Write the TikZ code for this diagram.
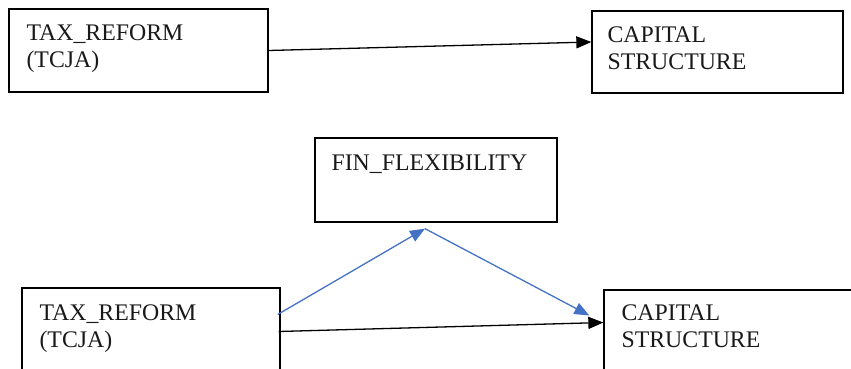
\documentclass[tikz,border=0pt]{standalone}
\usepackage{fontspec}
\setmainfont{Liberation Serif}
\usepackage{xcolor}
\usepackage{tikz}
\usetikzlibrary{arrows.meta,positioning,calc}
\definecolor{medblue}{RGB}{68,114,196}
\tikzset{
  box/.style={rectangle, draw, line width=1.3pt, inner sep=0pt},
  boxtext/.style={anchor=north west, inner sep=0pt, align=left, font=\fontsize{23.8}{27}\selectfont, text=black!90},
  arrow/.style={-{Triangle[length=15pt,width=12pt]}, line width=1.3pt},
  medarrow/.style={-{Triangle[length=15pt,width=12pt]}, line width=1.3pt, medblue}
}

\begin{document}
\begin{tikzpicture}[x=1pt,y=-1pt]
  \useasboundingbox (0,0) rectangle (851,369);
  \clip (0,0) rectangle (851,369);
  % top model
  \node[box, minimum width=259pt, minimum height=83pt] (tax) at (138.5,50.5) {};
  \node[box, minimum width=251pt, minimum height=82pt] (cap) at (717.5,52) {};
  \node[boxtext] (taxtxt) at ([shift={(18pt,-16pt)}]tax.north west) {TAX\_REFORM\\(TCJA)};
  \node[boxtext] (captxt) at ([shift={(16pt,-16pt)}]cap.north west) {CAPITAL\\STRUCTURE};
  \draw[arrow] (tax.east) -- ([yshift=10pt]cap.west);
  % mediation model
  \node[box, minimum width=242pt, minimum height=84pt] (flex) at (436,180) {};
  \node[box, minimum width=258pt, minimum height=83pt] (taxm) at (151,329.5) {};
  \node[box, minimum width=251pt, minimum height=83pt] (capm) at (729.5,331.5) {};
  \node[boxtext] (flextxt) at ([shift={(17pt,-17pt)}]flex.north west) {FIN\_FLEXIBILITY};
  \node[boxtext] (taxmtxt) at ([shift={(18pt,-17pt)}]taxm.north west) {TAX\_REFORM\\(TCJA)};
  \node[boxtext] (capmtxt) at ([shift={(18pt,-15pt)}]capm.north west) {CAPITAL\\STRUCTURE};
  \coordinate (tip) at ([shift={(-11pt,-6pt)}]flex.south);
  \draw[medarrow] ([shift={(-3pt,15pt)}]taxm.east) -- (tip);
  \draw[medarrow] (tip) -- ([shift={(-14pt,16pt)}]capm.west);
  \draw[arrow] ([shift={(-2pt,-2pt)}]taxm.east) -- ([yshift=9pt]capm.west);
\end{tikzpicture}
\end{document}
